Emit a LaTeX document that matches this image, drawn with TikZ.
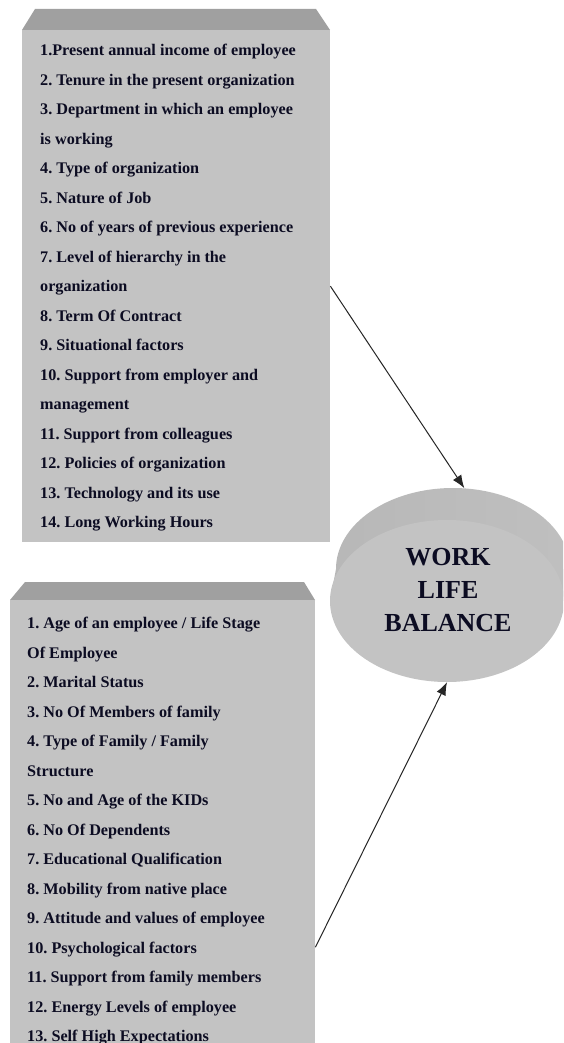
\documentclass[tikz,border=0pt]{standalone}
\usepackage{fontspec}
\setmainfont{Liberation Serif}
\usetikzlibrary{arrows.meta,shapes.geometric}
\definecolor{facegray}{HTML}{C3C3C3}
\definecolor{lidgray}{HTML}{A0A0A0}
\definecolor{inkblue}{HTML}{0C0C22}
\frenchspacing
\begin{document}
\begin{tikzpicture}[x=1pt,y=-1pt,
  face/.style={fill=facegray, draw=none, inner sep=0pt, anchor=north west},
  lid/.style={fill=lidgray, draw=none},
  listtext/.style={anchor=north west, inner sep=0pt, align=left, text=inkblue,
    font=\bfseries\fontsize{16.2}{29.5}\selectfont},
  bandshade/.style={left color=black!28, middle color=black!40, right color=black!25},
  link/.style={-{Latex[length=13pt,width=10pt]}, line width=1pt, black!85}]
\clip (0,0) rectangle (563,1043);
\fill[white] (0,0) rectangle (563,1043);

% upper block: work-related factors
\fill[lid] (35,9) -- (316,9) -- (330,30) -- (22,30) -- cycle;
\node[face, minimum width=308pt, minimum height=512pt] (upper) at (22,30) {};
\node[listtext] (uppertext) at (40,44) {%
1.Present annual income of employee\\
2. Tenure in the present organization\\
3. Department in which an employee\\
is working\\
4. Type of organization\\
5. Nature of Job\\
6. No of years of previous experience\\
7. Level of hierarchy in the\\
organization\\
8. Term Of Contract\\
9. Situational factors\\
10. Support from employer and\\
management\\
11. Support from colleagues\\
12. Policies of organization\\
13. Technology and its use\\
14. Long Working Hours};

% lower block: personal factors
\fill[lid] (25,582) -- (304,582) -- (315,600) -- (10,600) -- cycle;
\node[face, minimum width=305pt, minimum height=694pt] (lower) at (10,600) {};
\node[listtext] (lowertext) at (27,617) {%
1. Age of an employee / Life Stage\\
Of Employee\\
2. Marital Status\\
3. No Of Members of family\\
4. Type of Family / Family\\
Structure\\
5. No and Age of the KIDs\\
6. No Of Dependents\\
7. Educational Qualification\\
8. Mobility from native place\\
9. Attitude and values of employee\\
10. Psychological factors\\
11. Support from family members\\
12. Energy Levels of employee\\
13. Self High Expectations};

% cylinder: rear rim, side band, front face
\node[ellipse, bandshade, minimum width=234pt, minimum height=162pt, inner sep=0pt] (wlbback) at (453,569) {};
\shade[bandshade] (330,601) -- (336,569) -- (570,569) -- (564,601) -- cycle;
\node[ellipse, fill=facegray, minimum width=234pt, minimum height=162pt, inner sep=0pt] (wlb) at (447,601) {};
\node[align=center, text=inkblue, inner sep=0pt,
  font=\bfseries\fontsize{26}{33}\selectfont] (wlbtext) at (448,590) {WORK\\LIFE\\BALANCE};

% influence arrows
\draw[link] (upper.east) -- (wlbback.82);
\draw[link] (lower.east) -- (wlb.south);
\end{tikzpicture}
\end{document}
